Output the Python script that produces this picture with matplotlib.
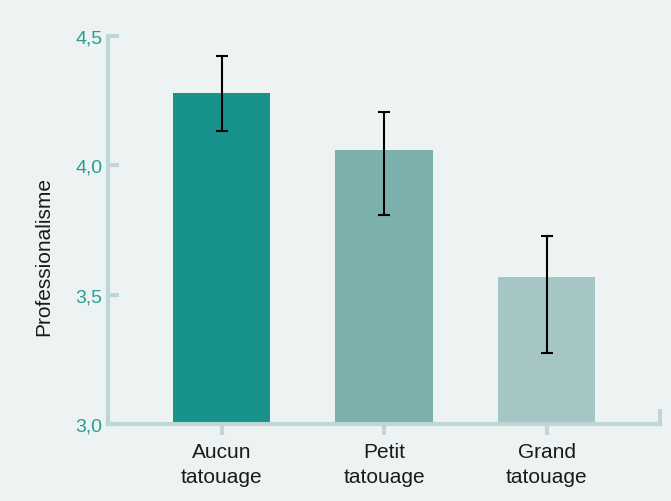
import matplotlib.pyplot as plt

categories = ["Aucun\ntatouage", "Petit\ntatouage", "Grand\ntatouage"]
means = [4.28, 4.06, 3.57]
err_low = [4.135, 3.81, 3.275]
err_high = [4.425, 4.205, 3.727]
bar_colors = ["#17928c", "#7bb0ad", "#a6c6c5"]

bg = "#edf3f3"
axis_col = "#bed6d5"
teal = "#2a9c96"

plt.rcParams["font.family"] = ["Liberation Sans", "DejaVu Sans"]

fig = plt.figure(figsize=(6.71, 5.02), dpi=100, facecolor=bg)
ax = fig.add_axes([0.161, 0.153, 0.823, 0.773], facecolor=bg)

x = list(range(len(categories)))
yerr = [[m - lo for m, lo in zip(means, err_low)],
        [hi - m for m, hi in zip(means, err_high)]]

ax.bar(x, [m - 3.0 for m in means], bottom=3.0, width=0.6, color=bar_colors, zorder=2)
ax.errorbar(x, means, yerr=yerr, fmt="none", ecolor="black", elinewidth=1.5,
            capsize=4, capthick=1.5, zorder=3)

ax.set_xlim(-0.7, 2.7)
ax.set_ylim(3.0, 4.5)

for s in ["top", "right"]:
    ax.spines[s].set_visible(False)
for s in ["left", "bottom"]:
    ax.spines[s].set_color(axis_col)
    ax.spines[s].set_linewidth(3)

ax.set_yticks([3.0, 3.5, 4.0, 4.5])
ax.set_yticklabels(["3,0", "3,5", "4,0", "4,5"])
ax.tick_params(axis="y", direction="in", length=8, width=3, color=axis_col,
               labelcolor=teal, labelsize=14, pad=4)
ax.set_xticks(x)
ax.set_xticklabels(categories, linespacing=1.4)
ax.tick_params(axis="x", direction="out", length=8, width=3, color=axis_col,
               labelcolor="#1a1a1a", labelsize=15, pad=5)

# small upward tick at the right end of the x axis
ax.plot([2.7, 2.7], [3.0, 3.06], color=axis_col, lw=3, clip_on=False,
        solid_capstyle="butt", zorder=1)

ax.set_ylabel("Professionalisme", fontsize=15, color="#1a1a1a")
ax.yaxis.set_label_coords(-0.1, 0.435)

fig.savefig("out.png", dpi=100, facecolor=bg)
